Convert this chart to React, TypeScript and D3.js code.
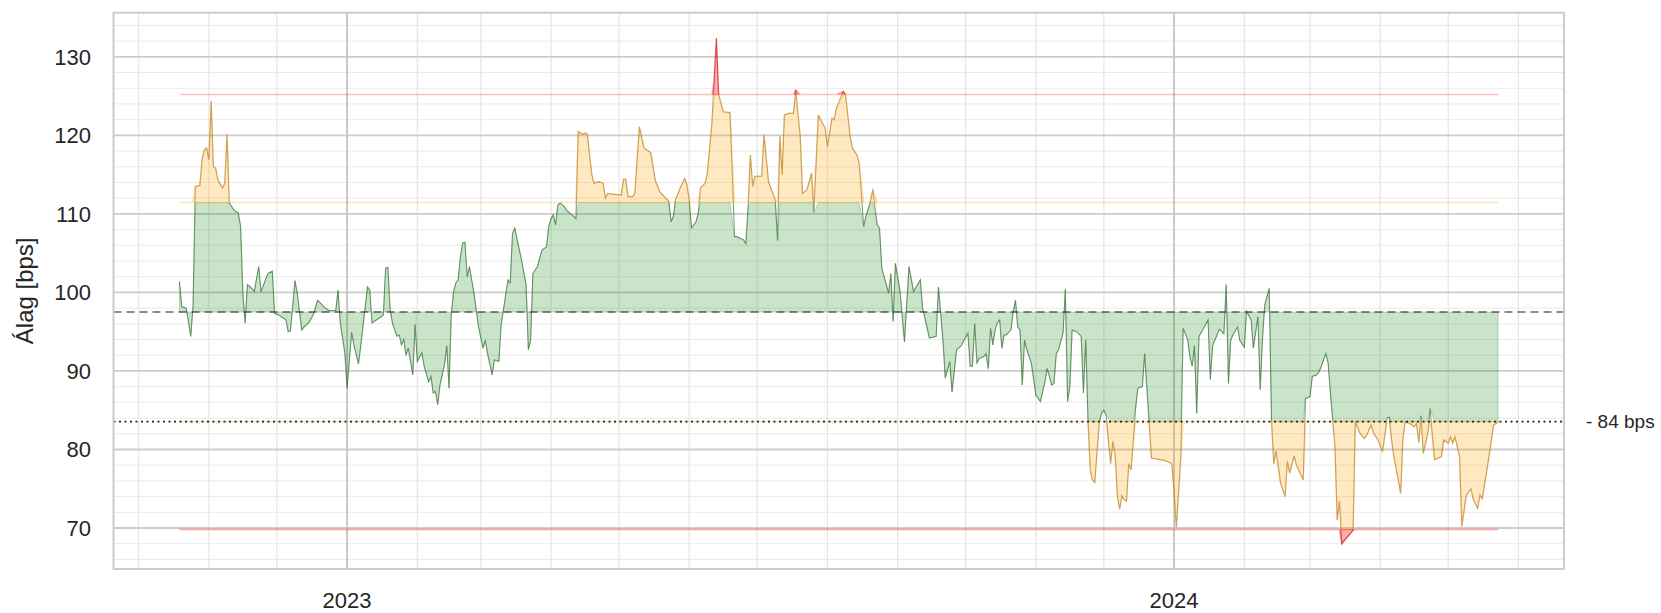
import React from "react";
import * as d3 from "d3";

const dates: string[] = [
  "2022-10-19","2022-10-20","2022-10-22","2022-10-24","2022-10-25","2022-10-26","2022-10-28","2022-10-29","2022-10-30","2022-10-31",
  "2022-11-01","2022-11-02","2022-11-03","2022-11-04","2022-11-05","2022-11-07","2022-11-08","2022-11-09","2022-11-10","2022-11-12",
  "2022-11-14","2022-11-15","2022-11-16","2022-11-17","2022-11-18","2022-11-20","2022-11-21","2022-11-23","2022-11-24","2022-11-27",
  "2022-11-29","2022-11-30","2022-12-02","2022-12-05","2022-12-06","2022-12-07","2022-12-09","2022-12-10","2022-12-12","2022-12-13",
  "2022-12-15","2022-12-17","2022-12-19","2022-12-21","2022-12-22","2022-12-24","2022-12-27","2022-12-28","2022-12-29","2022-12-31",
  "2023-01-01","2023-01-03","2023-01-04","2023-01-06","2023-01-07","2023-01-10","2023-01-11","2023-01-12","2023-01-13","2023-01-16",
  "2023-01-17","2023-01-18","2023-01-19","2023-01-20","2023-01-21","2023-01-23","2023-01-24","2023-01-25","2023-01-26","2023-01-27",
  "2023-01-28","2023-01-30","2023-01-31","2023-02-01","2023-02-03","2023-02-04","2023-02-06","2023-02-07","2023-02-08","2023-02-09",
  "2023-02-10","2023-02-11","2023-02-13","2023-02-14","2023-02-15","2023-02-16","2023-02-17","2023-02-18","2023-02-19","2023-02-20",
  "2023-02-21","2023-02-22","2023-02-23","2023-02-24","2023-02-26","2023-02-28","2023-03-02","2023-03-03","2023-03-04","2023-03-06",
  "2023-03-07","2023-03-09","2023-03-10","2023-03-13","2023-03-14","2023-03-15","2023-03-16","2023-03-19","2023-03-21","2023-03-22",
  "2023-03-23","2023-03-24","2023-03-26","2023-03-28","2023-03-30","2023-03-31","2023-04-01","2023-04-02","2023-04-03","2023-04-04",
  "2023-04-05","2023-04-07","2023-04-08","2023-04-11","2023-04-12","2023-04-13","2023-04-15","2023-04-16","2023-04-17","2023-04-19",
  "2023-04-20","2023-04-22","2023-04-24","2023-04-25","2023-04-26","2023-05-02","2023-05-03","2023-05-04","2023-05-05","2023-05-07",
  "2023-05-08","2023-05-10","2023-05-12","2023-05-13","2023-05-15","2023-05-17","2023-05-19","2023-05-23","2023-05-24","2023-05-25",
  "2023-05-26","2023-05-28","2023-05-30","2023-05-31","2023-06-01","2023-06-02","2023-06-04","2023-06-05","2023-06-06","2023-06-08",
  "2023-06-09","2023-06-11","2023-06-12","2023-06-13","2023-06-14","2023-06-16","2023-06-19","2023-06-21","2023-06-22","2023-06-25",
  "2023-06-26","2023-06-27","2023-06-28","2023-06-29","2023-06-30","2023-07-02","2023-07-03","2023-07-04","2023-07-06","2023-07-07",
  "2023-07-09","2023-07-10","2023-07-11","2023-07-12","2023-07-13","2023-07-15","2023-07-17","2023-07-18","2023-07-20","2023-07-21",
  "2023-07-23","2023-07-25","2023-07-26","2023-07-28","2023-07-29","2023-07-31","2023-08-01","2023-08-03","2023-08-04","2023-08-05",
  "2023-08-08","2023-08-09","2023-08-11","2023-08-12","2023-08-14","2023-08-15","2023-08-17","2023-08-18","2023-08-20","2023-08-21",
  "2023-08-23","2023-08-24","2023-08-25","2023-08-28","2023-08-29","2023-08-30","2023-08-31","2023-09-02","2023-09-04","2023-09-06",
  "2023-09-08","2023-09-11","2023-09-12","2023-09-15","2023-09-18","2023-09-19","2023-09-21","2023-09-22","2023-09-24","2023-09-25",
  "2023-09-27","2023-09-29","2023-10-02","2023-10-03","2023-10-04","2023-10-05","2023-10-06","2023-10-07","2023-10-09","2023-10-10",
  "2023-10-11","2023-10-12","2023-10-13","2023-10-14","2023-10-15","2023-10-16","2023-10-17","2023-10-18","2023-10-19","2023-10-21",
  "2023-10-22","2023-10-23","2023-10-24","2023-10-25","2023-10-26","2023-10-27","2023-10-28","2023-10-30","2023-11-01","2023-11-03",
  "2023-11-05","2023-11-06","2023-11-08","2023-11-09","2023-11-10","2023-11-11","2023-11-13","2023-11-14","2023-11-15","2023-11-16",
  "2023-11-17","2023-11-19","2023-11-21","2023-11-22","2023-11-23","2023-11-24","2023-11-25","2023-11-26","2023-11-27","2023-11-29",
  "2023-11-30","2023-12-01","2023-12-02","2023-12-04","2023-12-05","2023-12-06","2023-12-07","2023-12-08","2023-12-09","2023-12-10",
  "2023-12-11","2023-12-12","2023-12-13","2023-12-14","2023-12-15","2023-12-16","2023-12-18","2023-12-19","2023-12-21","2023-12-22",
  "2023-12-26","2023-12-28","2023-12-31","2024-01-01","2024-01-02","2024-01-04","2024-01-05","2024-01-07","2024-01-08","2024-01-09",
  "2024-01-10","2024-01-11","2024-01-12","2024-01-14","2024-01-16","2024-01-17","2024-01-18","2024-01-20","2024-01-21","2024-01-23",
  "2024-01-24","2024-01-25","2024-01-26","2024-01-27","2024-01-29","2024-01-30","2024-02-01","2024-02-02","2024-02-04","2024-02-05",
  "2024-02-07","2024-02-08","2024-02-09","2024-02-10","2024-02-12","2024-02-13","2024-02-14","2024-02-15","2024-02-17","2024-02-19",
  "2024-02-20","2024-02-21","2024-02-23","2024-02-24","2024-02-27","2024-02-28","2024-03-01","2024-03-02","2024-03-04","2024-03-05",
  "2024-03-06","2024-03-08","2024-03-09","2024-03-10","2024-03-11","2024-03-12","2024-03-13","2024-03-14","2024-03-15","2024-03-17",
  "2024-03-20","2024-03-21","2024-03-23","2024-03-25","2024-03-26","2024-03-28","2024-03-29","2024-03-31","2024-04-02","2024-04-04",
  "2024-04-05","2024-04-06","2024-04-07","2024-04-09","2024-04-10","2024-04-11","2024-04-12","2024-04-14","2024-04-16","2024-04-17",
  "2024-04-18","2024-04-19","2024-04-20","2024-04-21","2024-04-22","2024-04-23","2024-04-25","2024-04-28","2024-04-29","2024-05-01",
  "2024-05-02","2024-05-03","2024-05-04","2024-05-06","2024-05-07","2024-05-09","2024-05-11","2024-05-12","2024-05-14","2024-05-15",
  "2024-05-16","2024-05-19","2024-05-21","2024-05-23"
];

const values: number[] = [
  101.4,98.2,98.0,94.4,98.2,113.5,113.6,116.9,118.2,118.4,
  116.9,124.4,116.0,115.8,114.3,113.3,113.9,120.1,111.4,110.5,
  110.1,108.4,99.9,96.1,101.0,100.5,100.1,103.3,100.1,102.4,
  102.7,97.3,97.1,96.5,95.0,95.1,101.5,99.9,95.2,95.6,
  96.1,97.1,99.0,98.4,98.1,97.7,97.7,100.3,96.1,92.3,
  87.8,94.9,93.3,90.9,93.1,100.7,100.3,96.1,96.3,96.9,
  97.1,103.1,103.2,97.8,96.1,94.4,94.6,93.3,94.0,92.0,
  92.9,89.5,95.9,91.2,92.3,90.6,88.6,89.3,87.2,87.4,
  85.7,88.2,90.8,93.2,87.8,97.3,100.1,101.2,101.6,104.5,
  106.3,106.4,102.0,103.3,99.9,95.6,92.9,93.9,92.2,89.5,
  91.4,91.2,95.9,101.6,101.2,107.5,108.2,104.1,101.0,92.7,
  93.9,102.4,103.3,105.4,105.8,108.4,109.4,109.9,108.6,111.1,
  111.4,110.9,110.4,109.7,109.4,120.5,120.1,120.3,120.2,115.0,
  113.9,114.1,113.9,112.0,112.6,112.4,114.4,114.4,112.2,112.2,
  112.6,121.1,118.4,118.2,117.8,114.3,112.8,111.6,109.0,109.7,
  111.8,113.3,114.5,113.7,111.8,108.2,109.0,110.1,113.3,113.9,
  115.2,121.5,127.0,132.4,125.2,123.0,122.9,107.1,107.1,106.7,
  106.2,110.9,117.5,113.5,114.8,114.8,114.8,120.1,114.1,113.3,
  111.8,106.6,119.9,115.0,122.6,122.8,122.8,125.8,119.9,112.6,
  113.1,115.2,110.2,122.6,122.0,120.9,118.6,122.2,122.0,123.5,
  125.6,125.2,119.9,118.4,117.5,116.5,108.4,109.7,111.6,113.1,
  108.6,108.2,103.1,99.9,102.4,96.3,103.7,100.3,93.7,103.3,
  100.1,101.6,98.0,94.2,94.4,100.7,93.9,89.1,91.2,87.3,
  92.7,93.2,94.8,90.6,90.6,96.0,91.0,91.6,91.8,92.2,
  90.3,95.4,93.3,95.2,96.1,96.5,92.9,94.6,94.6,95.2,
  97.6,99.0,95.6,95.2,88.2,93.9,92.7,91.0,86.9,86.1,
  88.6,90.3,88.2,88.4,92.2,92.7,94.8,100.4,86.1,88.0,
  95.2,95.0,94.4,87.2,93.9,83.8,77.4,76.1,75.8,83.5,
  84.6,85.0,84.4,78.2,81.0,79.2,74.0,72.4,74.1,73.6,
  73.4,78.2,77.4,81.0,85.2,87.8,88.0,92.2,83.4,78.9,
  78.7,78.6,78.2,74.6,70.1,79.1,95.4,94.0,91.8,90.6,
  93.2,84.6,94.4,95.4,96.5,88.9,93.2,94.6,95.3,94.7,
  101.0,88.4,93.9,94.6,95.6,93.9,93.0,97.6,96.5,92.9,
  96.9,87.6,93.9,98.4,100.5,83.8,78.2,79.8,75.7,74.0,
  78.5,77.0,79.2,78.0,76.1,86.5,86.7,89.3,89.5,89.9,
  90.6,92.2,91.0,87.2,83.8,80.4,71.0,73.4,68.0,68.7,
  69.7,83.5,82.1,81.4,81.8,83.1,82.1,81.2,79.7,84.0,
  84.1,81.2,79.1,76.1,74.4,81.4,83.5,83.3,82.9,83.3,
  80.9,84.3,79.5,80.8,82.1,85.2,78.7,79.1,81.2,80.8,
  81.6,80.8,81.6,79.1,70.2,74.2,75.0,73.7,72.5,74.2,
  73.7,79.1,83.1,83.5
];

const yTickValues: number[] = [70, 80, 90, 100, 110, 120, 130];
const meanLevel = 97.5;
const innerBand = 13.95;
const outerBand = 27.7;
const yLabel = "Álag [bps]";
const lowerLabel = "- 84 bps";

const W = 1661;
const H = 613;
const FONT = "'Liberation Sans', Arial, Helvetica, sans-serif";
const TEXT = "#262626";

type Pt = { t: Date; v: number };

export default function App() {
  const left = 113.5, right = 1564, top = 12.7, bottom = 569;
  const parse = d3.utcParse("%Y-%m-%d");
  const data: Pt[] = dates.map((d, i) => ({ t: parse(d) as Date, v: values[i] }));
  const [t0, t1] = d3.extent(data, (d) => d.t) as [Date, Date];
  const tp = (+t1 - +t0) * 0.05;
  const x = d3.scaleUtc().domain([new Date(+t0 - tp), new Date(+t1 + tp)]).range([left, right]);
  const [v0, v1] = d3.extent(values) as [number, number];
  const vp = (v1 - v0) * 0.05;
  const y = d3.scaleLinear().domain([v0 - vp, v1 + vp]).range([bottom, top]);

  const hi1 = meanLevel + innerBand, lo1 = meanLevel - innerBand;
  const hi2 = meanLevel + outerBand, lo2 = meanLevel - outerBand;
  const clamp = (v: number, a: number, b: number) => Math.max(a, Math.min(b, v));

  const mk = (f0: (v: number) => number, f1: (v: number) => number) =>
    d3.area<Pt>().x((d) => x(d.t)).y0((d) => y(f0(d.v))).y1((d) => y(f1(d.v)))(data) || "";

  const greenArea = mk(() => meanLevel, (v) => clamp(v, lo1, hi1));
  const orangeUp = mk(() => hi1, (v) => clamp(v, hi1, hi2));
  const orangeDn = mk(() => lo1, (v) => clamp(v, lo2, lo1));
  const redUp = mk(() => hi2, (v) => Math.max(v, hi2));
  const redDn = mk(() => lo2, (v) => Math.min(v, lo2));
  const linePath = d3.line<Pt>().x((d) => x(d.t)).y((d) => y(d.v))(data) || "";

  const [d0, d1] = x.domain();
  const months = d3.utcMonth.range(d0, d1);
  const minorX = months.filter((m) => m.getUTCMonth() !== 0);
  const majorX = d3.utcYear.range(d0, d1);
  const [yd0, yd1] = y.domain();
  const minorY = d3.range(Math.ceil(yd0 / 2) * 2, yd1, 2).filter((v) => v % 10 !== 0);
  const fmtYear = d3.utcFormat("%Y");

  const pw = right - left;

  return (
    <div style={{ position: "absolute", left: 0, top: 0, width: W, height: H, background: "#fff" }}>
      <svg width={W} height={H} style={{ display: "block" }} fontFamily={FONT}>
        <defs>
          <clipPath id="zGreen">
            <rect x={left} y={y(hi1)} width={pw} height={y(lo1) - y(hi1)} />
          </clipPath>
          <clipPath id="zOrange">
            <rect x={left} y={y(hi2)} width={pw} height={y(hi1) - y(hi2)} />
            <rect x={left} y={y(lo1)} width={pw} height={y(lo2) - y(lo1)} />
          </clipPath>
          <clipPath id="zRed">
            <rect x={left} y={top} width={pw} height={y(hi2) - top} />
            <rect x={left} y={y(lo2)} width={pw} height={bottom - y(lo2)} />
          </clipPath>
        </defs>
        <rect x={left} y={top} width={pw} height={bottom - top} fill="#ffffff" />
        {minorY.map((v) => (
          <line key={"my" + v} x1={left} x2={right} y1={y(v)} y2={y(v)} stroke="#eaeaea" strokeWidth={1} />
        ))}
        {minorX.map((m) => (
          <line key={"mx" + +m} x1={x(m)} x2={x(m)} y1={top} y2={bottom} stroke="#e6e6e6" strokeWidth={1.2} />
        ))}
        {yTickValues.map((v) => (
          <line key={"gy" + v} x1={left} x2={right} y1={y(v)} y2={y(v)} stroke="#cccccc" strokeWidth={1.8} />
        ))}
        {majorX.map((m) => (
          <line key={"gx" + +m} x1={x(m)} x2={x(m)} y1={top} y2={bottom} stroke="#c4c4c4" strokeWidth={1.8} />
        ))}

        <path d={greenArea} fill="rgba(0,128,0,0.21)" stroke="rgba(0,110,0,0.22)" strokeWidth={1} />
        <path d={orangeUp} fill="rgba(255,165,0,0.24)" stroke="rgba(255,165,0,0.3)" strokeWidth={1.5} />
        <path d={orangeDn} fill="rgba(255,165,0,0.24)" stroke="rgba(255,165,0,0.3)" strokeWidth={1.5} />
        <path d={redUp} fill="rgba(255,0,0,0.32)" stroke="rgba(255,0,0,0.26)" strokeWidth={1.5} />
        <path d={redDn} fill="rgba(255,0,0,0.32)" stroke="rgba(255,0,0,0.36)" strokeWidth={1.5} />

        <path d={linePath} fill="none" stroke="rgba(50,100,50,0.6)" strokeWidth={1.1} clipPath="url(#zGreen)" />
        <path d={linePath} fill="none" stroke="rgba(170,120,50,0.6)" strokeWidth={1.1} clipPath="url(#zOrange)" />
        <path d={linePath} fill="none" stroke="rgba(190,40,40,0.65)" strokeWidth={1.1} clipPath="url(#zRed)" />

        <line x1={left} x2={right} y1={y(meanLevel)} y2={y(meanLevel)} stroke="rgba(40,40,40,0.7)" strokeWidth={1.6} strokeDasharray="8,5" />
        <line x1={left} x2={right} y1={y(lo1)} y2={y(lo1)} stroke="#222" strokeWidth={1.8} strokeDasharray="2,3.5" />

        <rect x={left} y={top} width={pw} height={bottom - top} fill="none" stroke="#cccccc" strokeWidth={2} />

        {yTickValues.map((v) => (
          <text key={"ty" + v} x={91} y={y(v)} dy="0.35em" textAnchor="end" fontSize={22} fill={TEXT}>
            {v}
          </text>
        ))}
        {majorX.map((m) => (
          <text key={"tx" + +m} x={x(m)} y={608} textAnchor="middle" fontSize={22} fill={TEXT}>
            {fmtYear(m)}
          </text>
        ))}
        <text transform={`translate(33, ${(top + bottom) / 2}) rotate(-90)`} textAnchor="middle" fontSize={24} fill={TEXT}>
          {yLabel}
        </text>
        <text x={1586} y={y(lo1)} dy="0.35em" fontSize={19} fill={TEXT}>
          {lowerLabel}
        </text>
      </svg>
    </div>
  );
}
